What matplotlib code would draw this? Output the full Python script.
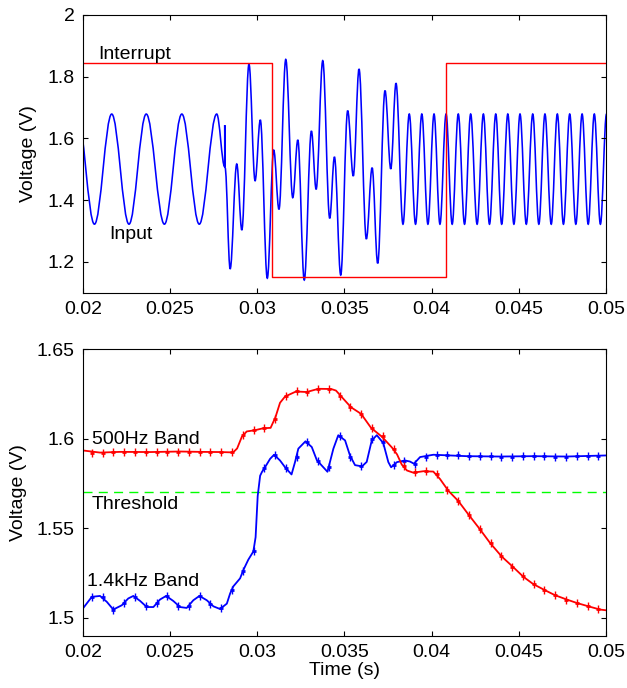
import numpy as np
import matplotlib
matplotlib.use("Agg")
import matplotlib.pyplot as plt
from matplotlib.path import Path
from matplotlib.patches import PathPatch

plt.rcParams['font.family'] = ['Liberation Sans', 'DejaVu Sans']
plt.rcParams['font.size'] = 14

# ---- top panel: input signal (peaks / troughs) ----
in_t = [0.01968, 0.02067, 0.02166, 0.02265, 0.02364, 0.02468, 0.02568, 0.02668, 0.02768,
        0.02814, 0.02814, 0.02816,
        0.02845, 0.02883, 0.02912, 0.02953, 0.02988, 0.03018, 0.03058, 0.03095, 0.03125,
        0.03164, 0.03204, 0.03233, 0.03270, 0.03311, 0.03338, 0.03376, 0.03416, 0.03443,
        0.03479, 0.03519, 0.03551, 0.03584, 0.03626, 0.03659, 0.03691, 0.03733, 0.03766,
        0.03796,
        0.03836, 0.03872, 0.03908, 0.03944, 0.03979, 0.04014, 0.04048, 0.04083, 0.04118,
        0.04153, 0.04189, 0.04224, 0.04261, 0.04297, 0.04332, 0.04368, 0.04402, 0.04437,
        0.04472, 0.04507, 0.04543, 0.04580, 0.04615, 0.04650, 0.04686, 0.04721, 0.04756,
        0.04792, 0.04827, 0.04863, 0.04898, 0.04933, 0.04968, 0.05003]
in_v = [1.679, 1.322, 1.679, 1.322, 1.679, 1.322, 1.679, 1.322, 1.679,
        1.508, 1.643, 1.505,
        1.177, 1.517, 1.303, 1.841, 1.463, 1.660, 1.147, 1.562, 1.370,
        1.856, 1.408, 1.595, 1.141, 1.624, 1.435, 1.852, 1.341, 1.540,
        1.157, 1.690, 1.478, 1.825, 1.274, 1.505, 1.195, 1.755, 1.501,
        1.779,
        1.322, 1.679, 1.322, 1.679, 1.322, 1.679, 1.322, 1.679, 1.322,
        1.679, 1.322, 1.679, 1.322, 1.679, 1.322, 1.679, 1.322, 1.679,
        1.322, 1.679, 1.322, 1.679, 1.322, 1.679, 1.322, 1.679, 1.322,
        1.679, 1.322, 1.679, 1.322, 1.679, 1.322, 1.679]

# interrupt line
int_t = [0.02, 0.03084, 0.03084, 0.04083, 0.04083, 0.05]
int_v = [1.843, 1.843, 1.152, 1.152, 1.843, 1.843]

# ---- bottom panel: band outputs ----
red_t = [0.02000, 0.02099, 0.02214, 0.02386, 0.02558, 0.02672, 0.02787, 0.02862, 0.02885,
         0.02912, 0.02940, 0.02988, 0.03035, 0.03077, 0.03105, 0.03131, 0.03160, 0.03223,
         0.03284, 0.03351, 0.03424, 0.03452, 0.03485, 0.03538, 0.03596, 0.03653, 0.03716,
         0.03773, 0.03802, 0.03829, 0.03859, 0.03895, 0.03953, 0.04010, 0.04048, 0.04096,
         0.04153, 0.04211, 0.04278, 0.04335, 0.04402, 0.04469, 0.04526, 0.04583, 0.04650,
         0.04708, 0.04775, 0.04832, 0.04899, 0.04966, 0.05000]
red_v = [1.5934, 1.5922, 1.5926, 1.5925, 1.5928, 1.5926, 1.5925, 1.5923, 1.5945,
         1.6010, 1.6040, 1.6047, 1.6058, 1.6060, 1.6120, 1.6200, 1.6235, 1.6263,
         1.6260, 1.6278, 1.6277, 1.6268, 1.6232, 1.6175, 1.6138, 1.6060, 1.6010,
         1.5950, 1.5912, 1.5855, 1.5822, 1.5810, 1.5818, 1.5816, 1.5775, 1.5709,
         1.5652, 1.5577, 1.5493, 1.5418, 1.5342, 1.5282, 1.5229, 1.5188, 1.5154,
         1.5126, 1.5102, 1.5083, 1.5064, 1.5046, 1.5042]

blue_t = [0.02000, 0.02052, 0.02099, 0.02138, 0.02175, 0.02224, 0.02261, 0.02290, 0.02329,
          0.02367, 0.02405, 0.02443, 0.02478, 0.02519, 0.02558, 0.02596, 0.02634, 0.02669,
          0.02711, 0.02749, 0.02787, 0.02826, 0.02845, 0.02863, 0.02902, 0.02921, 0.02949,
          0.02978, 0.02991, 0.03003, 0.03017, 0.03028, 0.03045, 0.03074, 0.03097, 0.03131,
          0.03160, 0.03197, 0.03217, 0.03236, 0.03277, 0.03313, 0.03342, 0.03370, 0.03403,
          0.03437, 0.03465, 0.03504, 0.03532, 0.03561, 0.03601, 0.03628, 0.03657, 0.03686,
          0.03723, 0.03752, 0.03768, 0.03802, 0.03848, 0.03876, 0.03899, 0.03934, 0.04010,
          0.04106, 0.04202, 0.04392, 0.04583, 0.04775, 0.05000]
blue_v = [1.5051, 1.5117, 1.5122, 1.5089, 1.5046, 1.5070, 1.5108, 1.5122, 1.5094,
          1.5060, 1.5060, 1.5102, 1.5122, 1.5094, 1.5060, 1.5055, 1.5098, 1.5122,
          1.5098, 1.5064, 1.5049, 1.5079, 1.5136, 1.5175, 1.5220, 1.5267, 1.5324,
          1.5370, 1.5450, 1.5680, 1.5793, 1.5815, 1.5840, 1.5887, 1.5910, 1.5878,
          1.5840, 1.5800, 1.5869, 1.5944, 1.5985, 1.5953, 1.5880, 1.5850, 1.5815,
          1.5944, 1.6019, 1.5990, 1.5906, 1.5852, 1.5845, 1.5870, 1.5990, 1.6019,
          1.5975, 1.5869, 1.5840, 1.5869, 1.5878, 1.5872, 1.5860, 1.5897, 1.5910,
          1.5906, 1.5902, 1.5900, 1.5902, 1.5900, 1.5906]

# little glitches that show on both band outputs
spike_t = [0.02052, 0.02114, 0.02175, 0.02237, 0.02299, 0.02361, 0.02423, 0.02484,
           0.02546, 0.02608, 0.02670, 0.02732, 0.02793, 0.02855, 0.02917, 0.02979,
           0.03041, 0.03102, 0.03164, 0.03226, 0.03288, 0.03350, 0.03411, 0.03473,
           0.03535, 0.03597, 0.03659, 0.03720, 0.03782, 0.03844, 0.03906, 0.03968,
           0.04030, 0.04091, 0.04153, 0.04215, 0.04277, 0.04338, 0.04400, 0.04462,
           0.04524, 0.04586, 0.04647, 0.04709, 0.04771, 0.04833, 0.04895, 0.04956]
red_spike_v = [1.5922, 1.5922, 1.5925, 1.5926, 1.5926, 1.5925, 1.5926, 1.5927,
               1.5928, 1.5927, 1.5926, 1.5925, 1.5925, 1.5923, 1.6018, 1.6046,
               1.6058, 1.6110, 1.6238, 1.6263, 1.6260, 1.6278, 1.6278, 1.6240,
               1.6178, 1.6138, 1.6058, 1.6012, 1.5940, 1.5845, 1.5811, 1.5818,
               1.5800, 1.5715, 1.5652, 1.5574, 1.5495, 1.5415, 1.5343, 1.5286,
               1.5231, 1.5187, 1.5155, 1.5126, 1.5102, 1.5083, 1.5065, 1.5047]
blue_spike_v = [1.5117, 1.5115, 1.5046, 1.5082, 1.5118, 1.5065, 1.5080, 1.5120,
                1.5066, 1.5065, 1.5121, 1.5075, 1.5052, 1.5156, 1.5260, 1.5370,
                1.5836, 1.5906, 1.5835, 1.5900, 1.5980, 1.5875, 1.5840, 1.6015,
                1.5900, 1.5845, 1.6000, 1.5980, 1.5850, 1.5877, 1.5861, 1.5900,
                1.5910, 1.5907, 1.5906, 1.5902, 1.5902, 1.5901, 1.5900, 1.5900,
                1.5901, 1.5902, 1.5901, 1.5900, 1.5900, 1.5902, 1.5904, 1.5905]

thr_t = [0.02, 0.05]
thr_v = [1.57, 1.57]

x_ticks = [0.02, 0.025, 0.03, 0.035, 0.04, 0.045, 0.05]
x_labels = ['0.02', '0.025', '0.03', '0.035', '0.04', '0.045', '0.05']
top_y_ticks = [1.2, 1.4, 1.6, 1.8, 2.0]
top_y_labels = ['1.2', '1.4', '1.6', '1.8', '2']
bot_y_ticks = [1.5, 1.55, 1.6, 1.65]
bot_y_labels = ['1.5', '1.55', '1.6', '1.65']


def wave_path(ts, vs, k=0.364):
    # smooth curve through the extrema, flat at each peak and trough
    verts = [(ts[0], vs[0])]
    codes = [Path.MOVETO]
    for i in range(1, len(ts)):
        dt = ts[i] - ts[i - 1]
        verts += [(ts[i - 1] + k * dt, vs[i - 1]), (ts[i] - k * dt, vs[i]), (ts[i], vs[i])]
        codes += [Path.CURVE4] * 3
    return Path(verts, codes)


def style(ax):
    ax.tick_params(direction='in', length=3.6, width=0.8, top=True, right=True, pad=6)
    for s in ax.spines.values():
        s.set_linewidth(0.8)
    ax.set_xticks(x_ticks)
    ax.set_xticklabels(x_labels)
    ax.set_xlim(0.02, 0.05)


fig = plt.figure(figsize=(6.27, 6.88), dpi=100)

ax1 = fig.add_axes([0.132, 0.5746, 0.8345, 0.4036])
ax1.add_patch(PathPatch(wave_path(in_t, in_v), fill=False, edgecolor='#0000ff', lw=1.15))
ax1.plot(int_t, int_v, color='#ff0000', lw=1.0)
style(ax1)
ax1.set_ylim(1.1, 2.0)
ax1.set_yticks(top_y_ticks)
ax1.set_yticklabels(top_y_labels)
ax1.set_ylabel('Voltage (V)', labelpad=7)
ax1.text(0.02089, 1.8564, 'Interrupt', va='baseline', ha='left')
ax1.text(0.021525, 1.2729, 'Input', va='baseline', ha='left')

ax2 = fig.add_axes([0.132, 0.076, 0.8345, 0.4167])
ax2.plot(thr_t, thr_v, color='#00ff00', lw=1.0, ls=(0, (6.5, 4.5)))
ax2.plot(blue_t, blue_v, color='#0000ff', lw=1.3)
ax2.plot(spike_t, blue_spike_v, ls='none', marker='|', ms=6, mew=1.0, color='#0000ff')
ax2.plot(spike_t, blue_spike_v, ls='none', marker='_', ms=3.5, mew=2.0, color='#0000ff')
ax2.plot(red_t, red_v, color='#ff0000', lw=1.3)
ax2.plot(spike_t, red_spike_v, ls='none', marker='|', ms=6, mew=1.0, color='#ff0000')
ax2.plot(spike_t, red_spike_v, ls='none', marker='_', ms=3.5, mew=2.0, color='#ff0000')
style(ax2)
ax2.set_ylim(1.49, 1.65)
ax2.set_yticks(bot_y_ticks)
ax2.set_yticklabels(bot_y_labels)
ax2.set_ylabel('Voltage (V)', labelpad=7)
ax2.set_xlabel('Time (s)', labelpad=1)
ax2.text(0.02055, 1.5972, '500Hz Band', va='baseline', ha='left')
ax2.text(0.020516, 1.5605, 'Threshold', va='baseline', ha='left')
ax2.text(0.02023, 1.5177, '1.4kHz Band', va='baseline', ha='left')

fig.savefig('out.png', dpi=100)
